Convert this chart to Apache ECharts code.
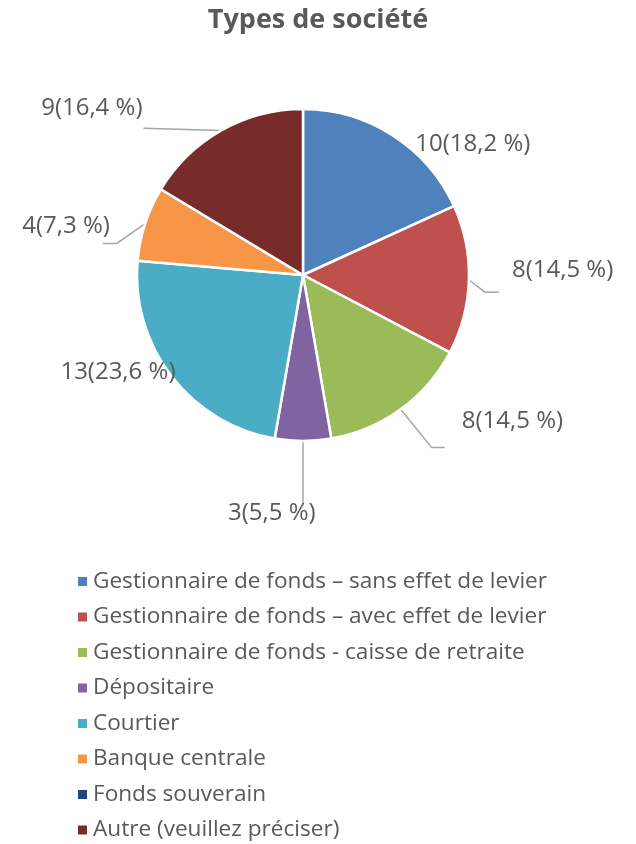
<!DOCTYPE html>
<html><head><meta charset="utf-8">
<script src="https://cdn.jsdelivr.net/npm/echarts@6/dist/echarts.min.js"></script>
<style>html,body{margin:0;padding:0;background:#fff}#c{width:636px;height:844px}</style>
</head><body><div id="c"></div>
<script>
const categories = [
  "Gestionnaire de fonds \u2013 sans effet de levier",
  "Gestionnaire de fonds \u2013 avec effet de levier",
  "Gestionnaire de fonds - caisse de retraite",
  "Dépositaire",
  "Courtier",
  "Banque centrale",
  "Fonds souverain",
  "Autre (veuillez préciser)"
];
const values = [10, 8, 8, 3, 13, 4, 0, 9];
const colors = ["#4F81BD", "#C0504D", "#9BBB59", "#8064A2", "#4BACC6", "#F79646", "#1F497D", "#772C2A"];
const total = values.reduce((a, b) => a + b, 0);
const fmt = v => v + "(" + (v / total * 100).toFixed(1).replace(".", ",") + " %)";
const FONT = "'Open Sans', 'Noto Sans', sans-serif";
// label nudges and leader-line shapes (style only), indexed like categories
const labelNudge = [[-2, 21], [12, -10], [36, 1], [-92, 58], [32, -13], [-5, 7], [0, 0], [-55, -10]];
const lineSpec = [
  null,
  {ref: 'left', pts: [[-27, 22], [-13, 22]]},
  {ref: 'left', pts: [[-30, 26], [-17, 26]]},
  {ref: 'top', pts: [[0, 4], [0, 4]]},
  null,
  {ref: 'right', pts: [[7, 17], [-7, 17]]},
  null,
  {ref: 'right', pts: [[1, 20], [1, 20]]}
];
const chart = echarts.init(document.getElementById('c'), null, {renderer: 'canvas'});
chart.setOption({
  animation: false,
  color: colors,
  title: {
    text: "Types de société", left: 'center', top: 2,
    textStyle: {fontFamily: FONT, fontSize: 27, fontWeight: 'bold', color: '#595959'}
  },
  legend: {
    orient: 'vertical', left: 71, top: 565, height: 280, itemWidth: 11, itemHeight: 11, itemGap: 12.5, icon: 'rect',
    textStyle: {fontFamily: FONT, fontSize: 22.6, lineHeight: 22, color: '#595959'},
    data: categories
  },
  series: [{
    type: 'pie', center: [303, 275], radius: 166, startAngle: 90, clockwise: true,
    itemStyle: {borderColor: '#fff', borderWidth: 2.5},
    label: {
      show: true, formatter: p => fmt(p.value),
      fontFamily: FONT, fontSize: 24, color: '#595959', distanceToLabelLine: 3
    },
    labelLine: {show: true, length: 14, length2: 14, lineStyle: {color: '#A6A6A6', width: 1.5}},
    labelLayout: p => {
      const n = labelNudge[p.dataIndex];
      const r = p.labelRect;
      const p1 = p.labelLinePoints ? p.labelLinePoints[0] : [0, 0];
      const left = r.x + n[0], right = r.x + r.width + n[0];
      const top = r.y + n[1], cy = r.y + r.height / 2 + n[1];
      const s = lineSpec[p.dataIndex];
      let pts;
      if (!s) pts = [p1, p1, p1];
      else if (s.ref === 'left') pts = [p1].concat(s.pts.map(q => [left + q[0], cy + q[1]]));
      else if (s.ref === 'right') pts = [p1].concat(s.pts.map(q => [right + q[0], cy + q[1]]));
      else pts = [p1].concat(s.pts.map(q => [p1[0] + q[0], top + q[1]]));
      return {dx: n[0], dy: n[1], hideOverlap: false, moveOverlap: false, labelLinePoints: pts};
    },
    data: categories.map((n, i) => ({
      name: n, value: values[i],
      label: values[i] === 0 ? {show: false} : undefined,
      labelLine: values[i] === 0 ? {show: false} : undefined
    }))
  }]
});
</script></body></html>
